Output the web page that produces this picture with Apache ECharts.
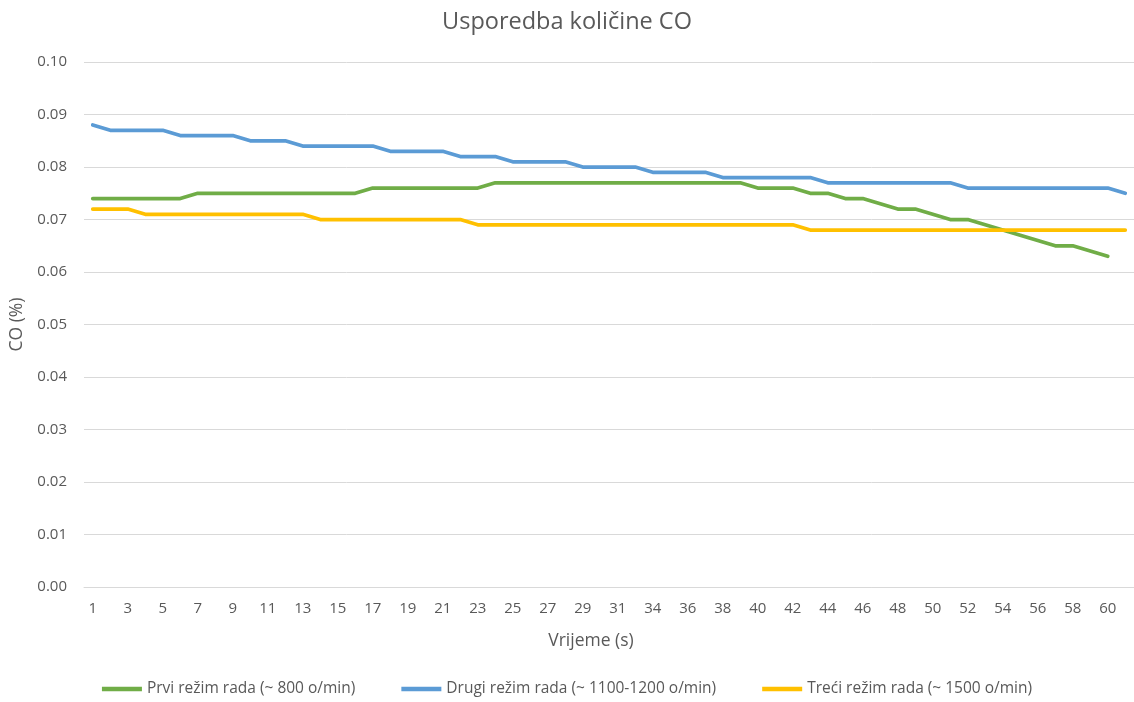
<!DOCTYPE html>
<html>
<head>
<meta charset="utf-8">
<script src="https://cdn.jsdelivr.net/npm/echarts@6/dist/echarts.min.js"></script>
<style>
html,body{margin:0;padding:0;background:#fff;}
#chart{width:1134px;height:702px;}
</style>
</head>
<body>
<div id="chart"></div>
<script>
// Time categories (seconds) — one number is skipped in the source between 31 and 34
const categories = ['1','2','3','4','5','6','7','8','9','10','11','12','13','14','15','16','17','18','19','20','21','22','23','24','25','26','27','28','29','30','31','32','34','35','36','37','38','39','40','41','42','43','44','45','46','47','48','49','50','51','52','53','54','55','56','57','58','59','60','61'];

const seriesNames = ['Prvi režim rada (~ 800 o/min)', 'Drugi režim rada (~ 1100-1200 o/min)', 'Treći režim rada (~ 1500 o/min)'];

const prvi = [0.074,0.074,0.074,0.074,0.074,0.074,0.075,0.075,0.075,0.075,0.075,0.075,0.075,0.075,0.075,0.075,0.076,0.076,0.076,0.076,0.076,0.076,0.076,0.077,0.077,0.077,0.077,0.077,0.077,0.077,0.077,0.077,0.077,0.077,0.077,0.077,0.077,0.077,0.076,0.076,0.076,0.075,0.075,0.074,0.074,0.073,0.072,0.072,0.071,0.070,0.070,0.069,0.068,0.067,0.066,0.065,0.065,0.064,0.063,null];

const drugi = [0.088,0.087,0.087,0.087,0.087,0.086,0.086,0.086,0.086,0.085,0.085,0.085,0.084,0.084,0.084,0.084,0.084,0.083,0.083,0.083,0.083,0.082,0.082,0.082,0.081,0.081,0.081,0.081,0.080,0.080,0.080,0.080,0.079,0.079,0.079,0.079,0.078,0.078,0.078,0.078,0.078,0.078,0.077,0.077,0.077,0.077,0.077,0.077,0.077,0.077,0.076,0.076,0.076,0.076,0.076,0.076,0.076,0.076,0.076,0.075];

const treci = [0.072,0.072,0.072,0.071,0.071,0.071,0.071,0.071,0.071,0.071,0.071,0.071,0.071,0.070,0.070,0.070,0.070,0.070,0.070,0.070,0.070,0.070,0.069,0.069,0.069,0.069,0.069,0.069,0.069,0.069,0.069,0.069,0.069,0.069,0.069,0.069,0.069,0.069,0.069,0.069,0.069,0.068,0.068,0.068,0.068,0.068,0.068,0.068,0.068,0.068,0.068,0.068,0.068,0.068,0.068,0.068,0.068,0.068,0.068,0.068];

const colors = ['#70AD47', '#5B9BD5', '#FFC000'];

const FONT = 'Open Sans';
const TXT = '#595959';

const chart = echarts.init(document.getElementById('chart'), null, {renderer: 'canvas'});

function mkSeries(name, data, color) {
  return {
    name: name,
    type: 'line',
    data: data,
    symbol: 'none',
    smooth: false,
    connectNulls: false,
    lineStyle: {color: color, width: 3.75, cap: 'round', join: 'round'},
    itemStyle: {color: color},
    emphasis: {disabled: true},
    animation: false
  };
}

chart.setOption({
  animation: false,
  backgroundColor: '#ffffff',
  title: {
    text: 'Usporedba količine CO',
    left: 'center',
    top: 5,
    textStyle: {fontFamily: FONT, fontSize: 23.5, fontWeight: 'normal', color: TXT}
  },
  legend: {
    top: 676,
    left: 'center',
    itemWidth: 40,
    itemHeight: 12,
    itemGap: 46,
    textStyle: {fontFamily: FONT, fontSize: 15.5, color: TXT},
    data: seriesNames.map((n, i) => ({name: n, icon: 'path://M0,0 L40,0 L40,4.5 L0,4.5 Z', itemStyle: {color: colors[i]}}))
  },
  grid: {left: 84, top: 62, width: 1054, height: 525, containLabel: false},
  xAxis: {
    type: 'category',
    data: categories,
    boundaryGap: true,
    axisLine: {show: true, lineStyle: {color: '#D9D9D9', width: 1}},
    axisTick: {show: false},
    axisLabel: {interval: 1, color: TXT, fontFamily: FONT, fontSize: 15, margin: 14},
    splitLine: {show: false},
    name: 'Vrijeme (s)',
    nameLocation: 'middle',
    nameGap: 45,
    nameTextStyle: {fontFamily: FONT, fontSize: 17.5, color: TXT, padding: [0, 36, 0, 0]}
  },
  yAxis: {
    type: 'value',
    min: 0,
    max: 0.1,
    interval: 0.01,
    axisLine: {show: false},
    axisTick: {show: false},
    axisLabel: {color: TXT, fontFamily: FONT, fontSize: 15, margin: 17, formatter: v => v.toFixed(2)},
    splitLine: {show: true, lineStyle: {color: '#D9D9D9', width: 1}},
    name: 'CO (%)',
    nameLocation: 'middle',
    nameGap: 57,
    nameRotate: 90,
    nameTextStyle: {fontFamily: FONT, fontSize: 17.5, color: TXT}
  },
  series: [
    mkSeries(seriesNames[0], prvi, colors[0]),
    mkSeries(seriesNames[1], drugi, colors[1]),
    mkSeries(seriesNames[2], treci, colors[2])
  ]
});
</script>
</body>
</html>
